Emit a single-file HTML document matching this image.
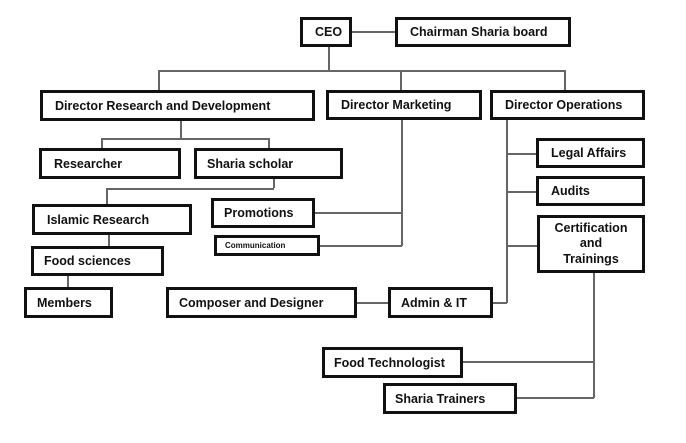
<!DOCTYPE html>
<html><head><style>
body{margin:0;width:686px;height:443px;background:#fff;position:relative;overflow:hidden;font-family:"Liberation Sans",sans-serif;}
.b{position:absolute;box-sizing:border-box;border:3px solid #111;background:#fff;font-weight:bold;font-size:12.5px;color:#111;padding-left:12px;display:flex;align-items:center;white-space:nowrap;}
.l{position:absolute;background:#666;}
.h{height:1.5px}.v{width:1.5px}
</style></head><body>
<div class="l h" style="left:351px;top:31px;width:44px"></div>
<div class="l v" style="left:328px;top:46px;height:24px"></div>
<div class="l h" style="left:158px;top:70px;width:407px"></div>
<div class="l v" style="left:158px;top:70px;height:21px"></div>
<div class="l v" style="left:400px;top:70px;height:21px"></div>
<div class="l v" style="left:564px;top:70px;height:21px"></div>
<div class="l v" style="left:180px;top:120px;height:18px"></div>
<div class="l h" style="left:101px;top:138px;width:168px"></div>
<div class="l v" style="left:101px;top:138px;height:10px"></div>
<div class="l v" style="left:268px;top:138px;height:10px"></div>
<div class="l v" style="left:273px;top:178px;height:10px"></div>
<div class="l h" style="left:106px;top:188px;width:168px"></div>
<div class="l v" style="left:106px;top:188px;height:17px"></div>
<div class="l v" style="left:401px;top:119px;height:127px"></div>
<div class="l h" style="left:314px;top:212px;width:88px"></div>
<div class="l h" style="left:319px;top:245px;width:83px"></div>
<div class="l v" style="left:108px;top:234px;height:12px"></div>
<div class="l v" style="left:67px;top:275px;height:13px"></div>
<div class="l h" style="left:356px;top:302px;width:32px"></div>
<div class="l v" style="left:506px;top:119px;height:184px"></div>
<div class="l h" style="left:492px;top:302px;width:15px"></div>
<div class="l h" style="left:506px;top:153px;width:31px"></div>
<div class="l h" style="left:506px;top:191px;width:31px"></div>
<div class="l h" style="left:506px;top:245px;width:31px"></div>
<div class="l v" style="left:593px;top:272px;height:126px"></div>
<div class="l h" style="left:462px;top:361px;width:132px"></div>
<div class="l h" style="left:516px;top:397px;width:78px"></div>
<div class="b" style="left:300px;top:17px;width:52px;height:30px">CEO</div>
<div class="b" style="left:395px;top:17px;width:176px;height:30px">Chairman Sharia board</div>
<div class="b" style="left:40px;top:90px;width:275px;height:31px">Director Research and Development</div>
<div class="b" style="left:326px;top:90px;width:156px;height:30px">Director Marketing</div>
<div class="b" style="left:490px;top:90px;width:155px;height:30px">Director Operations</div>
<div class="b" style="left:39px;top:148px;width:142px;height:31px">Researcher</div>
<div class="b" style="left:194px;top:148px;width:149px;height:31px;padding-left:10px">Sharia scholar</div>
<div class="b" style="left:32px;top:204px;width:160px;height:31px">Islamic Research</div>
<div class="b" style="left:211px;top:198px;width:104px;height:30px;padding-left:10px">Promotions</div>
<div class="b" style="left:214px;top:235px;width:106px;height:21px;font-size:8px;padding-left:8px">Communication</div>
<div class="b" style="left:31px;top:246px;width:133px;height:30px;padding-left:10px">Food sciences</div>
<div class="b" style="left:24px;top:287px;width:89px;height:31px;padding-left:10px">Members</div>
<div class="b" style="left:166px;top:287px;width:191px;height:31px;padding-left:10px">Composer and Designer</div>
<div class="b" style="left:388px;top:287px;width:105px;height:31px;padding-left:10px">Admin &amp; IT</div>
<div class="b" style="left:536px;top:138px;width:109px;height:30px">Legal Affairs</div>
<div class="b" style="left:536px;top:176px;width:109px;height:30px">Audits</div>
<div class="b" style="left:537px;top:215px;width:108px;height:58px;padding-left:0;justify-content:center;text-align:center;line-height:15.5px">Certification<br>and<br>Trainings</div>
<div class="b" style="left:322px;top:347px;width:141px;height:31px;padding-left:9px">Food Technologist</div>
<div class="b" style="left:383px;top:383px;width:134px;height:31px;padding-left:9px">Sharia Trainers</div>
</body></html>
